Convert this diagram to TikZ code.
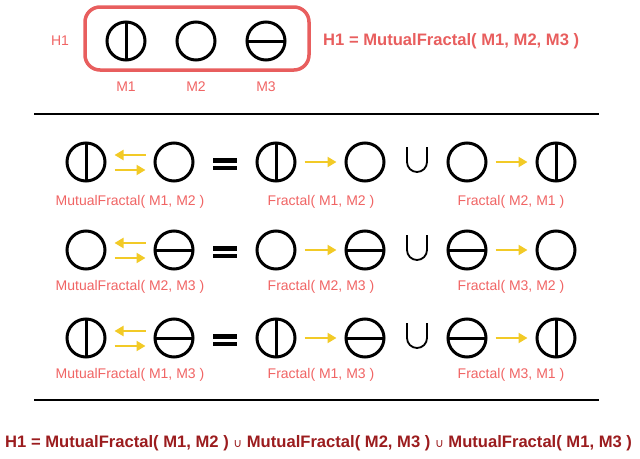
\documentclass[tikz,border=0pt]{standalone}
\usepackage{fontspec}
\setmainfont{Liberation Sans}
\newfontfamily\dejavu{DejaVu Sans}
\usetikzlibrary{arrows.meta}
\definecolor{boxred}{RGB}{232,94,94}
\definecolor{lblred}{RGB}{240,100,100}
\definecolor{darkred}{RGB}{155,28,30}
\definecolor{gold}{RGB}{242,202,38}
\tikzset{
  sym/.style={circle, draw=black, line width=3pt, minimum size=38pt, inner sep=0pt},
  mone/.style={sym, append after command={(\tikzlastnode.north) edge[line width=3pt, shorten <=1.5pt, shorten >=1.5pt] (\tikzlastnode.south)}},
  mtwo/.style={sym},
  mthree/.style={sym, append after command={(\tikzlastnode.west) edge[line width=3pt, shorten <=1.5pt, shorten >=1.5pt] (\tikzlastnode.east)}},
  lbl/.style={text=lblred, font=\fontsize{14}{16}\selectfont, inner sep=0pt},
  title/.style={font=\bfseries\fontsize{16.6}{18}\selectfont, inner sep=0pt},
  yarr/.style={draw=gold, line width=2.2pt, -{Triangle[length=9pt,width=10pt]}, shorten <=8pt, shorten >=8pt},
  eqsign/.style={minimum width=24pt, minimum height=12pt, inner sep=0pt, outer sep=0pt,
    path picture={\fill (path picture bounding box.north west) rectangle ([yshift=-4.5pt]path picture bounding box.north east);
                  \fill ([yshift=4.5pt]path picture bounding box.south west) rectangle (path picture bounding box.south east);}},
  cupline/.style={draw=black, line width=1.8pt},
  rule/.style={draw=black, line width=2pt}
}
\begin{document}
\begin{tikzpicture}[x=1pt,y=-1pt]
\useasboundingbox (0,0) rectangle (640,458);
% top
\node[draw=boxred, line width=3.5pt, rounded corners=15pt, minimum width=224pt, minimum height=63pt] (hbox) at (197,38.5) {};
\node[mone] (t1) at (126,41) {};
\node[mtwo] (t2) at (196,41) {};
\node[mthree] (t3) at (266,41) {};
\node[lbl] (tl1) at (126,87) {M1};
\node[lbl] (tl2) at (196,87) {M2};
\node[lbl] (tl3) at (266,87) {M3};
\node[lbl] (th1) at (60,41) {H1};
\node[title, text=boxred, anchor=west] (ttitle) at (323,41) {H1 = MutualFractal( M1, M2, M3 )};
\draw[rule] (34,114) -- (599,114);
\draw[rule] (34,400) -- (599,400);
% row 1
\node[mone] (a1) at (86,162) {};
\node[mtwo] (b1) at (174,162) {};
\node[eqsign] (e1) at (225,164) {};
\node[mone] (c1) at (276,162) {};
\node[mtwo] (d1) at (365,162) {};
\node[mtwo] (f1) at (467,162) {};
\node[mone] (g1) at (556,162) {};
\draw[yarr] ([yshift=7pt]b1.west) -- ([yshift=7pt]a1.east);
\draw[yarr] ([yshift=-8pt]a1.east) -- ([yshift=-8pt]b1.west);
\draw[yarr] (c1) -- (d1);
\draw[yarr] (f1) -- (g1);
\draw[cupline] (407,147) -- (407,162) arc[start angle=180,end angle=0,radius=10] -- (427,147);
\node[lbl] (la1) at (130,202) {MutualFractal( M1, M2 )};
\node[lbl] (lb1) at (321,202) {Fractal( M1, M2 )};
\node[lbl] (lc1) at (511,202) {Fractal( M2, M1 )};
% row 2
\node[mtwo] (a2) at (86,250) {};
\node[mthree] (b2) at (174,250) {};
\node[eqsign] (e2) at (225,252) {};
\node[mtwo] (c2) at (276,250) {};
\node[mthree] (d2) at (365,250) {};
\node[mthree] (f2) at (467,250) {};
\node[mtwo] (g2) at (556,250) {};
\draw[yarr] ([yshift=7pt]b2.west) -- ([yshift=7pt]a2.east);
\draw[yarr] ([yshift=-8pt]a2.east) -- ([yshift=-8pt]b2.west);
\draw[yarr] (c2) -- (d2);
\draw[yarr] (f2) -- (g2);
\draw[cupline] (407,235) -- (407,250) arc[start angle=180,end angle=0,radius=10] -- (427,235);
\node[lbl] (la2) at (130,287) {MutualFractal( M2, M3 )};
\node[lbl] (lb2) at (321,287) {Fractal( M2, M3 )};
\node[lbl] (lc2) at (511,287) {Fractal( M3, M2 )};
% row 3
\node[mone] (a3) at (86,338) {};
\node[mthree] (b3) at (174,338) {};
\node[eqsign] (e3) at (225,340) {};
\node[mone] (c3) at (276,338) {};
\node[mthree] (d3) at (365,338) {};
\node[mthree] (f3) at (467,338) {};
\node[mone] (g3) at (556,338) {};
\draw[yarr] ([yshift=7pt]b3.west) -- ([yshift=7pt]a3.east);
\draw[yarr] ([yshift=-8pt]a3.east) -- ([yshift=-8pt]b3.west);
\draw[yarr] (c3) -- (d3);
\draw[yarr] (f3) -- (g3);
\draw[cupline] (407,323) -- (407,338) arc[start angle=180,end angle=0,radius=10] -- (427,323);
\node[lbl] (la3) at (130,375) {MutualFractal( M1, M3 )};
\node[lbl] (lb3) at (321,375) {Fractal( M1, M3 )};
\node[lbl] (lc3) at (511,375) {Fractal( M3, M1 )};
% bottom formula
\node[title, text=darkred, anchor=west] (formula) at (5,443) {H1 = MutualFractal( M1, M2 ) {\dejavu\mdseries\fontsize{12}{12}\selectfont ∪} MutualFractal( M2, M3 ) {\dejavu\mdseries\fontsize{12}{12}\selectfont ∪} MutualFractal( M1, M3 )};
\end{tikzpicture}
\end{document}
